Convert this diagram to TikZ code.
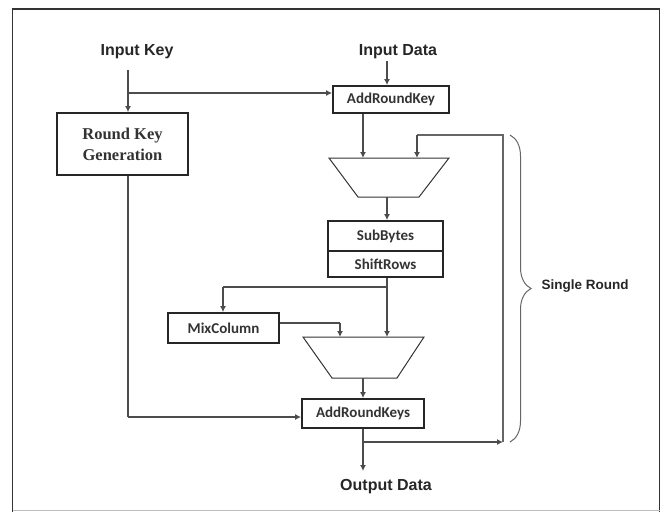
\documentclass[tikz,border=0pt]{standalone}
\usepackage{fontspec}
\setmainfont{Liberation Sans}
\newfontfamily\calfont{Carlito}
\newfontfamily\timesfont{Liberation Serif}
\usetikzlibrary{arrows.meta,decorations.pathreplacing}
\tikzset{
  boxst/.style={draw=black!85, line width=1.8pt, inner sep=0pt, font=\calfont\bfseries\fontsize{15}{18}\selectfont, text=black!80},
  lbl/.style={font=\bfseries\fontsize{16}{18}\selectfont, text=black!85, inner sep=0pt},
  conn/.style={draw=black!70, line width=1.2pt},
  arr/.style={conn, -{Latex[length=6pt,width=6pt]}},
  trap/.style={draw=black!80, line width=1pt},
}
\begin{document}
\begin{tikzpicture}[x=1pt,y=-1pt]
\useasboundingbox (0,0) rectangle (665,512);
% frame
\draw[black!80, line width=1.8pt] (12.5,512) -- (12.5,9) -- (659.5,9) -- (659.5,512);
\draw[black!25, line width=1pt] (12.5,510.5) -- (659.5,510.5);

% labels
\node[lbl] (inkey) at (137,52) {Input Key};
\node[lbl] (indata) at (398,52) {Input Data};
\node[lbl] (outdata) at (386,487) {Output Data};
\node[lbl, font=\bfseries\fontsize{13.5}{16}\selectfont] (single) at (585,286) {Single Round};

% boxes
\node[boxst, minimum width=116pt, minimum height=27pt] (ark) at (391,99.5) {AddRoundKey};
\node[boxst, minimum width=131pt, minimum height=62pt, align=center,
      font=\timesfont\bfseries\fontsize{16.5}{21}\selectfont] (rkg) at (122.5,144) {Round Key\\Generation};
\node[boxst, minimum width=115pt, minimum height=30pt] (sb) at (385.5,236) {SubBytes};
\node[boxst, minimum width=115pt, minimum height=26pt] (sr) at (385.5,264) {ShiftRows};
\node[boxst, minimum width=111pt, minimum height=30pt] (mix) at (223.5,328) {MixColumn};
\node[boxst, minimum width=122pt, minimum height=29pt] (ark2) at (363,413.5) {AddRoundKeys};

% trapezoids
\coordinate (t1a) at (329,158); \coordinate (t1b) at (449,158);
\coordinate (t1c) at (419,197); \coordinate (t1d) at (358,197);
\draw[trap] (t1a) -- (t1b) -- (t1c) -- (t1d) -- cycle;
\coordinate (t2a) at (303,337); \coordinate (t2b) at (424,337);
\coordinate (t2c) at (397,378); \coordinate (t2d) at (332,378);
\draw[trap] (t2a) -- (t2b) -- (t2c) -- (t2d) -- cycle;

% key path
\coordinate (k0) at (128,70);
\coordinate (k1) at (128,93);
\draw[arr] (k0) -- (k0 |- rkg.north);
\draw[arr] (k1) -- (k1 -| ark.west);
\coordinate (k2) at (128,417);
\draw[conn] (k2 |- rkg.south) -- (k2);
\draw[arr] (k2) -- (k2 -| ark2.west);

% data path
\coordinate (d0) at (387,61);
\draw[arr] (d0) -- (d0 |- ark.north);
\coordinate (d1) at (363,113);
\draw[arr] (d1 |- ark.south) -- (d1 |- t1a);
\coordinate (d2) at (387,197);
\draw[arr] (d2) -- (d2 |- sb.north);
\coordinate (d3) at (387,287);
\draw[conn] (d3 |- sr.south) -- (d3);
\draw[arr] (d3) -- (d3 |- t2a);
\coordinate (m0) at (223,287);
\draw[conn] (d3) -- (m0);
\draw[arr] (m0) -- (m0 |- mix.north);
\coordinate (m1) at (340,323);
\draw[conn] (m1 -| mix.east) -- (m1);
\draw[arr] (m1) -- (m1 |- t2a);
\coordinate (d4) at (363,378);
\draw[arr] (d4) -- (d4 |- ark2.north);
\coordinate (o0) at (363,442);
\coordinate (o1) at (363,471);
\draw[arr] (o0 |- ark2.south) -- (o1);

% feedback
\coordinate (f0) at (503,442);
\coordinate (f1) at (503,135);
\coordinate (f2) at (417,135);
\draw[arr] (o0) -- (f0);
\draw[conn, draw=black!60] (f0) -- (f1) -- (f2);
\draw[arr] (f2) -- (f2 |- t1a);

% brace
\coordinate (b0) at (510,135);
\coordinate (b1) at (510,442);
\draw[black!60, line width=1pt, decorate, decoration={brace, amplitude=21pt}] (b0) -- (b1);
\end{tikzpicture}
\end{document}
